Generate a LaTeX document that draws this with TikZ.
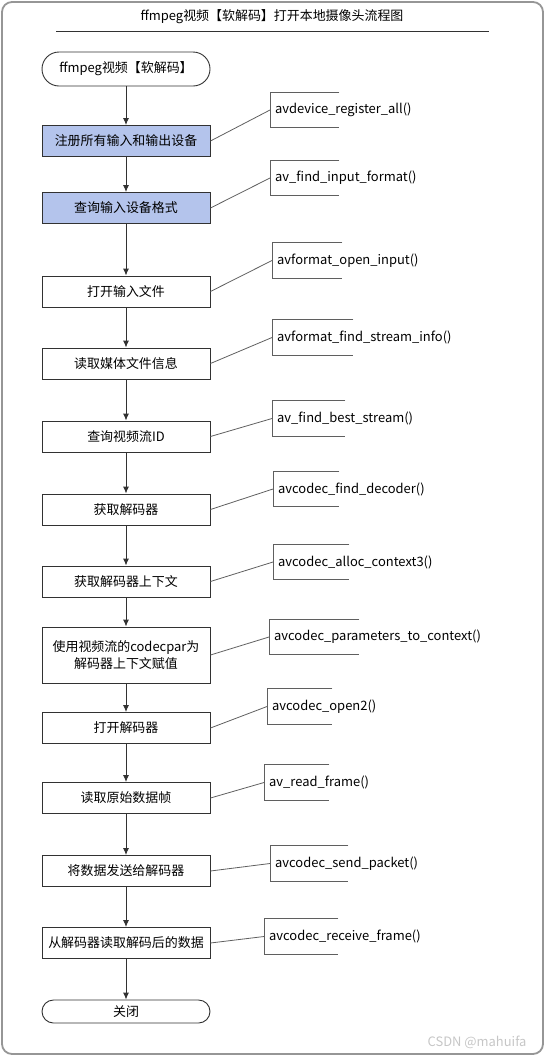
\documentclass[tikz,border=0pt]{standalone}
\usepackage{fontspec}
\setmainfont{Noto Sans CJK SC}
\usetikzlibrary{arrows.meta,positioning}
\definecolor{boxblue}{RGB}{180,196,236}
\definecolor{boxline}{RGB}{50,50,50}
\definecolor{linkgray}{RGB}{95,95,95}
\definecolor{framegray}{RGB}{150,150,150}

\begin{document}
\begin{tikzpicture}[
    x=1bp, y=-1bp,
    every node/.style={font=\fontsize{13}{17}\selectfont},
    box/.style={rectangle, draw=boxline, line width=0.9bp,
                minimum width=168bp, minimum height=31bp, inner sep=0pt,
                align=center},
    bluebox/.style={box, fill=boxblue},
    term/.style={box, minimum height=34bp, rounded corners=17bp},
    bracket/.style={rectangle, minimum height=35bp, inner sep=0pt, anchor=west},
    apitext/.style={anchor=west, inner sep=0pt},
    arrow/.style={-{Latex[length=7bp,width=6bp]}, draw=boxline, line width=0.9bp},
    link/.style={draw=linkgray, line width=0.8bp},
    frame/.style={draw=framegray, line width=1.8bp, rounded corners=10bp}
]
\useasboundingbox (0,0) rectangle (545,1056);

% Frame and title
\draw[frame] (2,2) rectangle (543,1054);
\node (title) at (272,17) {ffmpeg视频【软解码】打开本地摄像头流程图};
\draw[boxline, line width=0.9bp] (56,31) -- (489,31);

% Flow steps
\node[term] (step0) at (126,69) {ffmpeg视频【软解码】};
\node[bluebox] (step1) at (126,141) {注册所有输入和输出设备};
\node[bluebox] (step2) at (126,208) {查询输入设备格式};
\node[box] (step3) at (126,291.5) {打开输入文件};
\node[box] (step4) at (126,363.5) {读取媒体文件信息};
\node[box] (step5) at (126,436.5) {查询视频流ID};
\node[box] (step6) at (126,509.5) {获取解码器};
\node[box] (step7) at (126,581.5) {获取解码器上下文};
\node[box, minimum height=56bp] (step8) at (126,655) {使用视频流的codecpar为\\解码器上下文赋值};
\node[box] (step9) at (126,728) {打开解码器};
\node[box] (step10) at (126,798) {读取原始数据帧};
\node[box] (step11) at (126,871) {将数据发送给解码器};
\node[box] (step12) at (126,943) {从解码器读取解码后的数据};
\node[term, minimum height=23bp, rounded corners=11.5bp] (step13) at (126,1011.5) {关闭};

% Arrows between steps
\foreach \i [count=\j from 1] in {0,...,12} {
    \draw[arrow] (step\i) -- (step\j);
}

% API calls
\foreach \i/\x/\y/\w/\txt in {
    1/270/110/69/avdevice\_register\_all(),
    2/270/178/69/av\_find\_input\_format(),
    3/272/260.5/70/avformat\_open\_input(),
    4/272/337.5/81/avformat\_find\_stream\_info(),
    5/272/418.5/73/av\_find\_best\_stream(),
    6/273/489/66/avcodec\_find\_decoder(),
    7/273/562/76/avcodec\_alloc\_context3(),
    8/269/637/90/avcodec\_parameters\_to\_context(),
    9/267/706.5/65/avcodec\_open2(),
    10/264/782.5/65/av\_read\_frame(),
    11/270/863.5/78/avcodec\_send\_packet(),
    12/264/936.5/74/avcodec\_receive\_frame()} {
    \node[bracket, minimum width=\w bp] (api\i) at (\x,\y) {};
    \draw[link] (api\i.north east) -- (api\i.north west)
        -- (api\i.south west) -- (api\i.south east);
    \node[apitext] (apitxt\i) at ([xshift=5bp]api\i.west) {\txt};
    \draw[link] (step\i.east) -- (api\i.west);
}

% Watermark
\node[text=gray!45, anchor=east] (mark) at (530,1042) {CSDN @mahuifa};

\end{tikzpicture}
\end{document}
